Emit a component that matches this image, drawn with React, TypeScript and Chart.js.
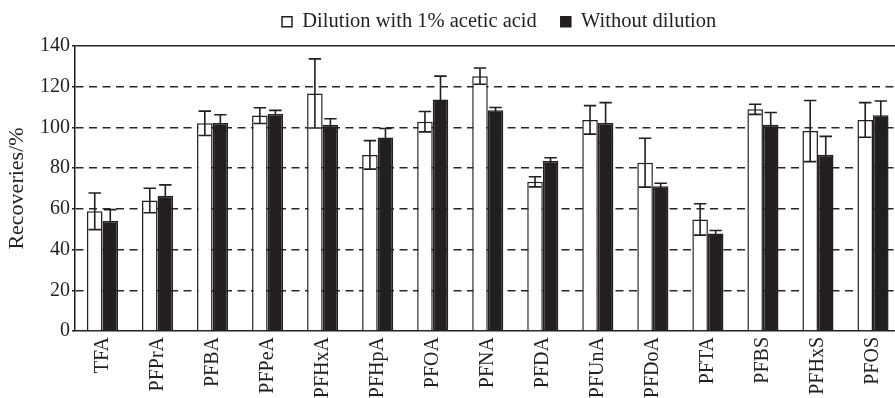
import React, { useEffect, useRef } from "react";
import { Chart, registerables } from "chart.js";

Chart.register(...registerables);

const categories = ["TFA", "PFPrA", "PFBA", "PFPeA", "PFHxA", "PFHpA", "PFOA", "PFNA", "PFDA", "PFUnA", "PFDoA", "PFTA", "PFBS", "PFHxS", "PFOS"];
const dilutedValues = [58.8, 64.1, 102.0, 105.8, 116.7, 86.5, 102.8, 125.2, 73.3, 103.7, 82.7, 54.8, 108.9, 98.2, 103.7];
const dilutedErrors = [9, 6, 6, 3.9, 17, 7, 5, 4, 2.5, 7, 12, 7.7, 2.5, 15, 8.5];
const undilutedValues = [54.0, 66.5, 102.2, 106.6, 101.3, 95.0, 113.7, 108.4, 83.5, 102.2, 71.1, 47.9, 101.3, 86.6, 106.0];
const undilutedErrors = [5.6, 5.3, 4, 1.8, 3, 4.5, 11.5, 1.4, 1.6, 10, 1.5, 1.5, 6, 9, 7];
const seriesNames = ["Dilution with 1% acetic acid", "Without dilution"];
const yTicks = [0, 20, 40, 60, 80, 100, 120, 140];

const INK = "#231f20";
const FONT = "'Liberation Serif', 'DejaVu Serif', serif";
const CANVAS_W = 903;
const CANVAS_H = 410;

const errorBarsPlugin = {
  id: "errorBars",
  afterDatasetsDraw(chart: any) {
    const { ctx } = chart;
    const yScale = chart.scales.y;
    const errs = [dilutedErrors, undilutedErrors];
    ctx.save();
    ctx.strokeStyle = INK;
    ctx.lineWidth = 1.6;
    chart.data.datasets.forEach((ds: any, di: number) => {
      const meta = chart.getDatasetMeta(di);
      meta.data.forEach((bar: any, i: number) => {
        const v = ds.data[i];
        const e = errs[di][i];
        const x = bar.x;
        const yt = yScale.getPixelForValue(v + e);
        const yb = yScale.getPixelForValue(v - e);
        const half = bar.width * 0.4;
        ctx.beginPath();
        ctx.moveTo(x, yt);
        ctx.lineTo(x, yb);
        ctx.moveTo(x - half, yt);
        ctx.lineTo(x + half, yt);
        ctx.moveTo(x - half, yb);
        ctx.lineTo(x + half, yb);
        ctx.stroke();
      });
    });
    ctx.restore();
  },
};

const legendPlacer = {
  id: "legendPlacer",
  beforeLayout(chart: any) {
    const lg = chart.legend;
    if (lg && !lg._patchedFit) {
      const f = lg.fit;
      lg.fit = function () {
        f.call(this);
        this.height = 46;
      };
      lg._patchedFit = true;
    }
  },
  afterLayout(chart: any) {
    const lg = chart.legend;
    if (!lg) return;
    const pad = lg.options.labels.padding;
    lg.left = 282 - pad;
    lg.right = CANVAS_W;
    lg.top = 11.5 - pad;
  },
};

export default function App() {
  const ref = useRef<HTMLCanvasElement | null>(null);

  useEffect(() => {
    if (!ref.current) return;
    const chart = new Chart(ref.current, {
      type: "bar",
      data: {
        labels: categories,
        datasets: [
          {
            label: seriesNames[0],
            data: dilutedValues,
            backgroundColor: "#ffffff",
            borderColor: INK,
            borderWidth: 1.5,
          },
          {
            label: seriesNames[1],
            data: undilutedValues,
            backgroundColor: INK,
            borderColor: INK,
            borderWidth: 1.5,
          },
        ],
      },
      options: {
        responsive: false,
        animation: false,
        devicePixelRatio: 1,
        events: [],
        layout: { padding: 0 },
        datasets: {
          bar: { categoryPercentage: 0.565, barPercentage: 1 },
        },
        plugins: {
          tooltip: { enabled: false },
          legend: {
            display: true,
            position: "top",
            align: "start",
            labels: {
              boxWidth: 10,
              boxHeight: 10,
              padding: 24,
              color: INK,
              font: { family: FONT, size: 20.5 },
            },
          },
        },
        scales: {
          x: {
            type: "category",
            afterFit: (s: any) => {
              s.height = CANVAS_H - 331;
            },
            grid: { display: false, drawTicks: false },
            border: { display: true, color: INK, width: 1.5 },
            ticks: {
              color: INK,
              minRotation: 90,
              maxRotation: 90,
              autoSkip: false,
              padding: 6,
              font: { family: FONT, size: 20 },
            },
          },
          y: {
            type: "linear",
            min: 0,
            max: 140,
            afterFit: (s: any) => {
              s.width = 75;
            },
            afterBuildTicks: (s: any) => {
              s.ticks = yTicks.map((v) => ({ value: v }));
            },
            grid: {
              display: true,
              drawTicks: true,
              tickLength: 3,
              tickColor: INK,
              tickWidth: 1.5,
              lineWidth: 1.4,
              color: (c: any) => (c.tick && (c.tick.value === 0) ? "rgba(0,0,0,0)" : "#2a2627"),
            },
            border: {
              display: true,
              color: INK,
              width: 1.5,
              dash: (c: any) => (c.tick && (c.tick.value === 140 || c.tick.value === 0) ? [] : [8, 5.5]),
            },
            ticks: {
              color: INK,
              padding: 2,
              font: { family: FONT, size: 20 },
            },
            title: {
              display: true,
              text: "Recoveries/%",
              color: INK,
              padding: { top: 4, bottom: 0 },
              font: { family: FONT, size: 22 },
            },
          },
        },
      },
      plugins: [errorBarsPlugin, legendPlacer],
    } as any);
    return () => chart.destroy();
  }, []);

  return (
    <div style={{ position: "fixed", left: 0, top: 0, width: 895, height: 398, overflow: "hidden", background: "#fff" }}>
      <canvas ref={ref} width={CANVAS_W} height={CANVAS_H} style={{ display: "block" }} />
    </div>
  );
}
